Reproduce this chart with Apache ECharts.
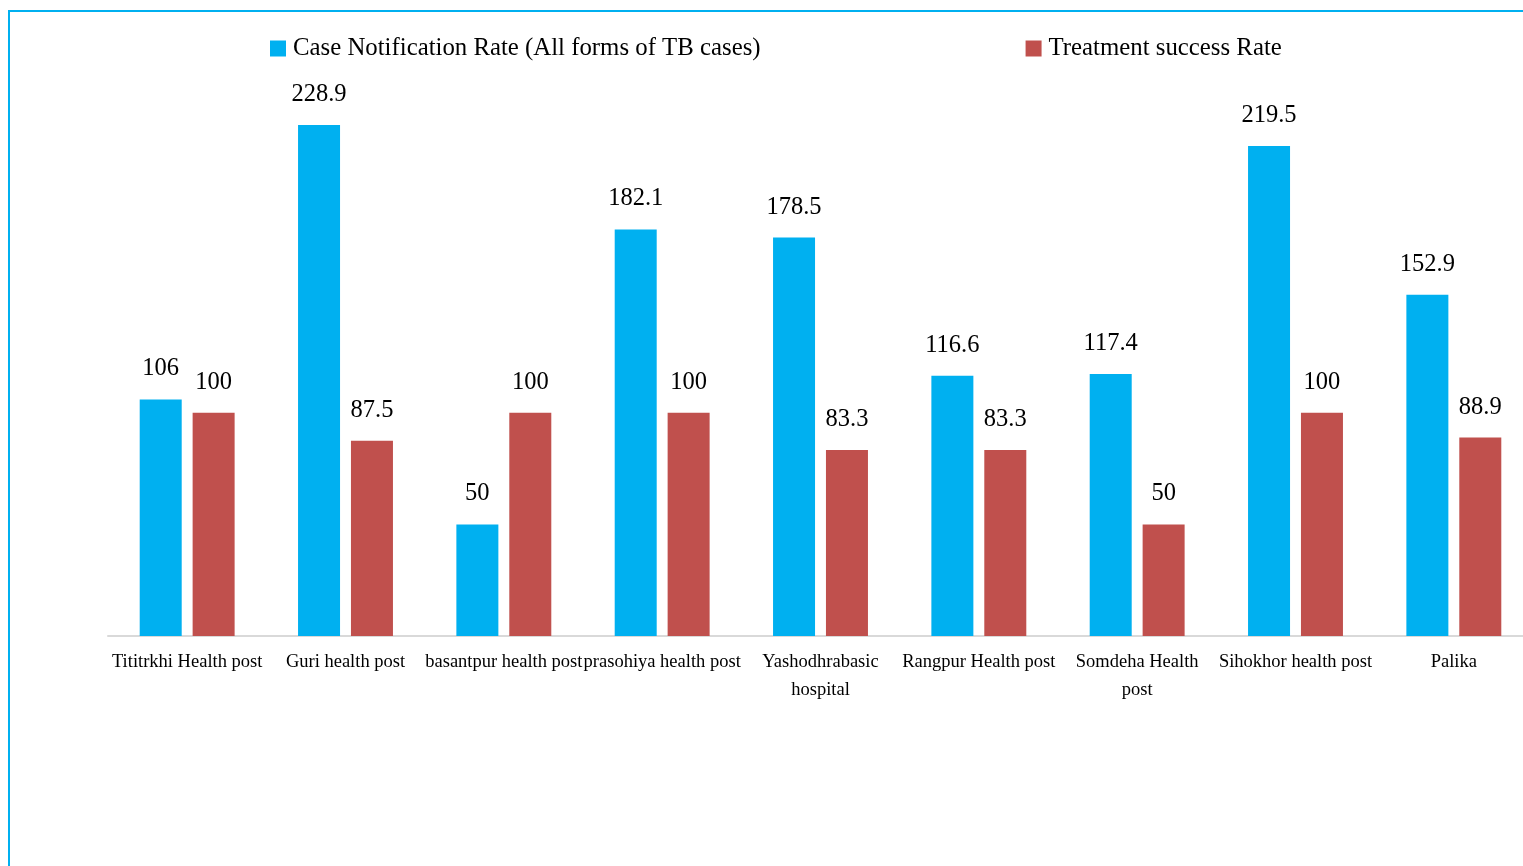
<!DOCTYPE html>
<html>
<head>
<meta charset="utf-8">
<script src="https://cdn.jsdelivr.net/npm/echarts@6/dist/echarts.min.js"></script>
<style>
    html, body { margin: 0; padding: 0; background: #fff; overflow: hidden; width: 1523px; height: 866px; }
    #frame { position: absolute; left: 8px; top: 10px; width: 1530px; height: 870px;
             border-left: 2px solid #00b0f0; border-top: 2px solid #00b0f0; }
    #chart { position: absolute; left: 0; top: 0; width: 1540px; height: 866px; }
</style>
</head>
<body>
<div id="frame"></div>
<div id="chart"></div>
<script>
var categories = ['Tititrkhi Health post', 'Guri health post', 'basantpur health post', 'prasohiya health post',
    'Yashodhrabasic\nhospital', 'Rangpur Health post', 'Somdeha Health\npost', 'Sihokhor health post', 'Palika'];
var notificationRate = [106, 228.9, 50, 182.1, 178.5, 116.6, 117.4, 219.5, 152.9];
var successRate = [100, 87.5, 100, 100, 83.3, 83.3, 50, 100, 88.9];
var seriesNames = ['Case Notification Rate (All forms of TB cases)', 'Treatment success Rate'];

var dom = document.getElementById("chart");
var myChart = echarts.init(dom);
var font = 'Liberation Serif';
var option = {
    animation: false,
    legend: {
        data: seriesNames,
        left: 265,
        top: 31,
        itemWidth: 16,
        itemHeight: 16,
        itemGap: 265,
        icon: 'rect',
        textStyle: { fontFamily: font, fontSize: 24.8, color: '#000', padding: [0, 0, 4, 2] }
    },
    grid: {
        left: 108,
        top: 78,
        width: 1425,
        height: 558
    },
    xAxis: {
        type: 'category',
        data: categories,
        axisLine: { lineStyle: { color: '#d9d9d9', width: 2 } },
        axisTick: { show: false },
        axisLabel: {
            interval: 0,
            margin: 12,
            lineHeight: 28,
            fontFamily: font,
            fontSize: 18.5,
            color: '#000'
        }
    },
    yAxis: {
        type: 'value',
        min: 0,
        max: 250,
        show: false
    },
    series: [
        {
            name: seriesNames[0],
            type: 'bar',
            data: notificationRate,
            barWidth: 42,
            barGap: '26%',
            itemStyle: { color: '#00b0f0' },
            label: {
                show: true,
                position: 'top',
                distance: 18,
                fontFamily: font,
                fontSize: 24.5,
                color: '#000'
            }
        },
        {
            name: seriesNames[1],
            type: 'bar',
            data: successRate,
            barWidth: 42,
            barGap: '26%',
            itemStyle: { color: '#c0504d' },
            label: {
                show: true,
                position: 'top',
                distance: 18,
                fontFamily: font,
                fontSize: 24.5,
                color: '#000'
            }
        }
    ]
};
myChart.setOption(option, true);
</script>
</body>
</html>
